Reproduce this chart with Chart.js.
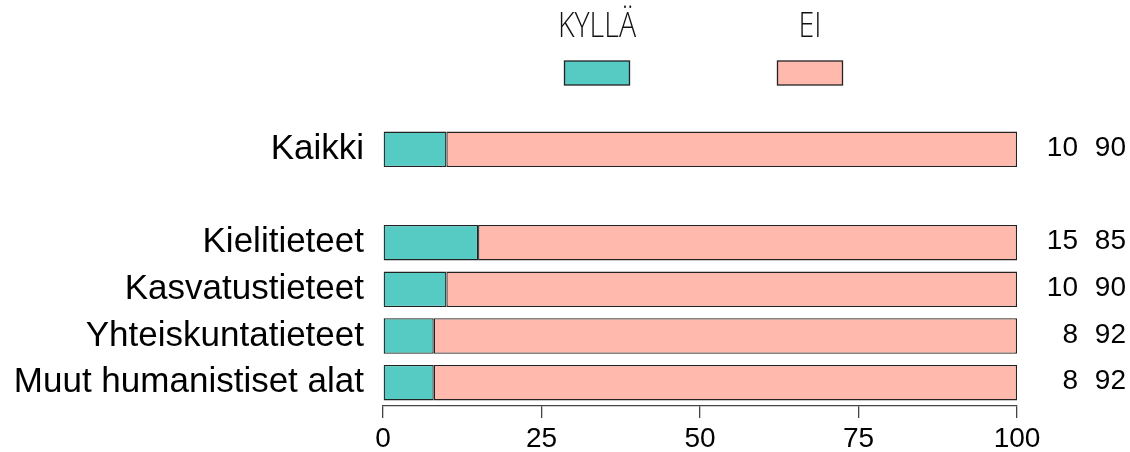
<!DOCTYPE html>
<html>
<head>
<meta charset="utf-8">
<script src="https://cdn.jsdelivr.net/npm/chart.js@4/dist/chart.umd.min.js"></script>
<style>
html,body{margin:0;padding:0;background:#fff;}
#wrap{width:1130px;height:452px;position:relative;}
</style>
</head>
<body>
<div id="wrap"><canvas id="c" width="1130" height="452"></canvas></div>
<script>
const categories = ['Kaikki', '', 'Kielitieteet', 'Kasvatustieteet', 'Yhteiskuntatieteet', 'Muut humanistiset alat'];
const kylla = [10, null, 15, 10, 8, 8];
const ei = [90, null, 85, 90, 92, 92];
const seriesNames = ['KYLLÄ', 'EI'];
const xTicks = [0, 25, 50, 75, 100];

const colKylla = '#55CBC4';
const colEi = '#FFB9AD';
const labelFont = '"Liberation Sans", Arial, sans-serif';

const legendPlugin = {
  id: 'topLegend',
  afterDraw(chart) {
    const ctx = chart.ctx;
    const centers = [597, 810];
    chart.data.datasets.forEach((ds, i) => {
      const cx = centers[i];
      ctx.save();
      ctx.translate(cx, 27);
      ctx.scale(0.84, 1);
      ctx.font = '300 34px "Open Sans", "Noto Sans", sans-serif';
      ctx.fillStyle = '#111';
      ctx.textAlign = 'center';
      ctx.textBaseline = 'middle';
      ctx.fillText(ds.label, 0, 0);
      ctx.restore();
      ctx.save();
      ctx.fillStyle = ds.backgroundColor;
      ctx.fillRect(cx - 32.5, 61, 65, 24);
      ctx.strokeStyle = '#222';
      ctx.lineWidth = 1.3;
      ctx.strokeRect(cx - 32.5, 61, 65, 24);
      ctx.restore();
    });
  }
};

const valuesPlugin = {
  id: 'rightValues',
  afterDatasetsDraw(chart) {
    const ctx = chart.ctx;
    const meta0 = chart.getDatasetMeta(0);
    const right = chart.chartArea.right;
    ctx.save();
    ctx.font = '28px ' + labelFont;
    ctx.fillStyle = '#000';
    ctx.textAlign = 'right';
    ctx.textBaseline = 'middle';
    chart.data.labels.forEach((lab, i) => {
      const a = chart.data.datasets[0].data[i];
      const b = chart.data.datasets[1].data[i];
      if (a == null || b == null) return;
      const y = meta0.data[i].y - 1;
      ctx.fillText(String(a), right + 61, y);
      ctx.fillText(String(b), right + 109, y);
    });
    ctx.restore();
  }
};

new Chart(document.getElementById('c'), {
  type: 'bar',
  data: {
    labels: categories,
    datasets: [
      { label: seriesNames[0], data: kylla, backgroundColor: colKylla, borderColor: '#222', borderWidth: 1.3, borderSkipped: false, categoryPercentage: 1, barPercentage: 0.76 },
      { label: seriesNames[1], data: ei, backgroundColor: colEi, borderColor: '#222', borderWidth: 1.3, borderSkipped: false, categoryPercentage: 1, barPercentage: 0.76 }
    ]
  },
  options: {
    indexAxis: 'y',
    responsive: false,
    animation: false,
    layout: { padding: { left: 0, right: 113, top: 126, bottom: 0 } },
    plugins: { legend: { display: false }, tooltip: { enabled: false } },
    scales: {
      x: {
        stacked: true,
        min: 0, max: 100,
        afterBuildTicks(scale) { scale.ticks = xTicks.map(v => ({ value: v })); },
        afterFit(scale) { scale.height = 46; },
        grid: { drawOnChartArea: false, drawTicks: true, tickLength: 12, color: '#444', lineWidth: 1.3 },
        border: { display: true, color: '#444', width: 1.3 },
        ticks: { color: '#000', font: { family: labelFont, size: 28 }, padding: 4, maxRotation: 0 }
      },
      y: {
        stacked: true,
        afterFit(scale) { scale.width = 383; },
        grid: { display: false, drawTicks: false },
        border: { display: false },
        ticks: { color: '#000', font: { family: labelFont, size: 35 }, padding: 19, autoSkip: false }
      }
    }
  },
  plugins: [legendPlugin, valuesPlugin]
});
</script>
</body>
</html>
